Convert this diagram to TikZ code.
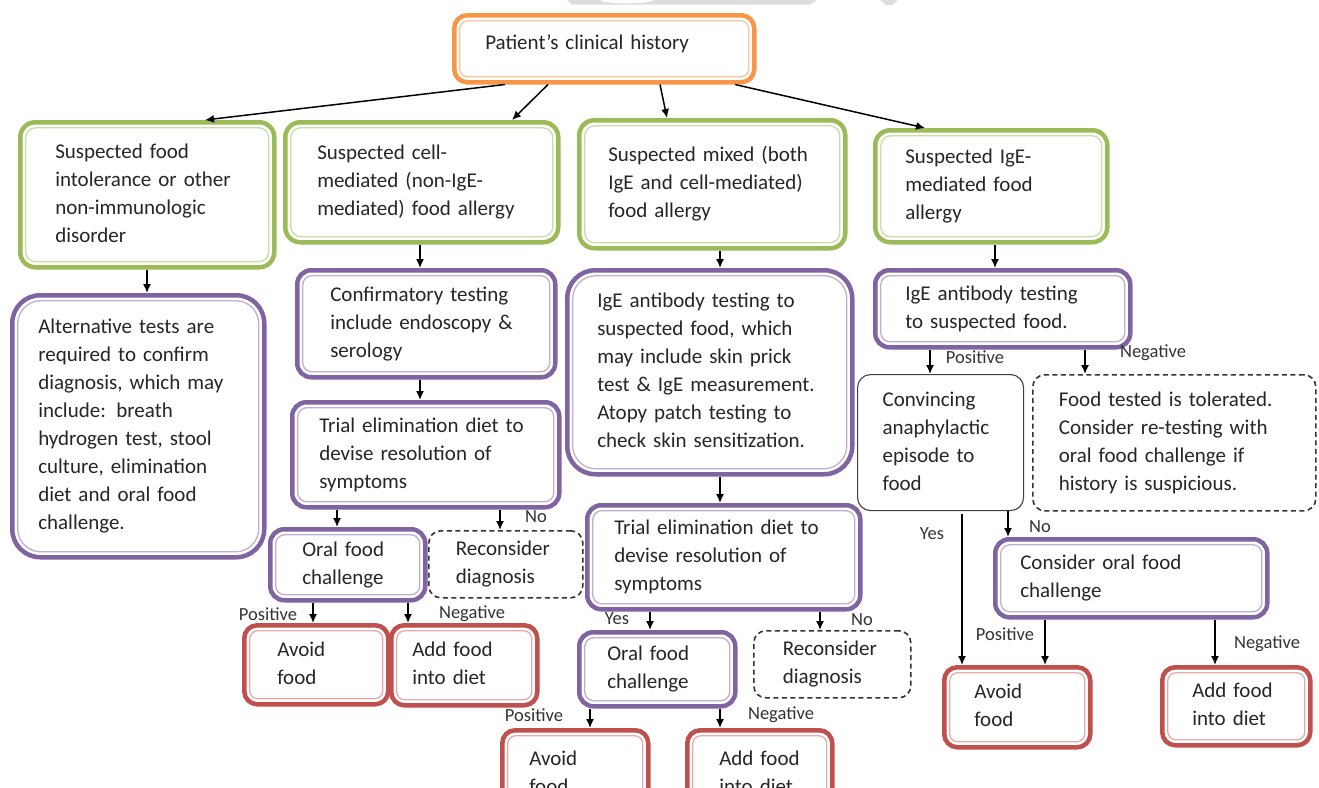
\documentclass[tikz,border=0pt]{standalone}
\usepackage{fontspec}
\setmainfont{Carlito}
\usetikzlibrary{arrows.meta}
\definecolor{orOut}{HTML}{F79646}
\definecolor{orIn}{HTML}{FAC59E}
\definecolor{grOut}{HTML}{9BBB59}
\definecolor{grIn}{HTML}{C9DDA6}
\definecolor{puOut}{HTML}{8064A2}
\definecolor{puIn}{HTML}{BDAFD6}
\definecolor{reOut}{HTML}{C0504D}
\definecolor{reIn}{HTML}{E8AAA8}
\definecolor{txt}{HTML}{262626}
\definecolor{labc}{HTML}{333333}
\definecolor{dsh}{HTML}{333333}
\definecolor{thinc}{HTML}{404040}
\definecolor{wm}{HTML}{DDDDDD}
\tikzset{
 bodyf/.style={font=\fontsize{21}{28}\selectfont, text=txt},
 dbox/.style n args={4}{draw=#1, line width=4.5pt, rounded corners=#3, fill=white, bodyf,
   path picture={\draw[draw=#2, line width=1.3pt, rounded corners=#4]
     ([shift={(5.5pt,5.5pt)}]path picture bounding box.south west) rectangle
     ([shift={(-5.5pt,-5.5pt)}]path picture bounding box.north east);}},
 obox/.style={dbox={orOut}{orIn}{13pt}{8pt}},
 gbox/.style={dbox={grOut}{grIn}{15pt}{10pt}},
 pbox/.style={dbox={puOut}{puIn}{14pt}{9pt}},
 pboxbig/.style={dbox={puOut}{puIn}{28pt}{23pt}},
 rbox/.style={dbox={reOut}{reIn}{13pt}{8pt}},
 dashbox/.style={draw=dsh, line width=1.6pt, dash pattern=on 5pt off 3.5pt, rounded corners=12pt, fill=white, bodyf},
 thinbox/.style={draw=thinc, line width=1.1pt, rounded corners=13pt, fill=white, bodyf},
 arr/.style={draw=black, line width=1.5pt, -{Latex[length=9pt,width=8pt]}},
 lab/.style={font=\fontsize{18.5}{21}\selectfont, text=labc, inner sep=1pt},
}
% name, style, x1, y1, x2, y2, left pad, text
\newcommand\mybox[8]{%
 \pgfmathsetmacro\mbw{#5-#3}\pgfmathsetmacro\mbh{#6-#4}\pgfmathsetmacro\mtw{#5-#3-2*#7}%
 \node[#2, minimum width=\mbw pt, minimum height=\mbh pt, text width=\mtw pt,
   anchor=north west, inner sep=0pt, align=left] (#1) at (#3,#4)
   {\begin{tabular}{@{}l@{}}#8\end{tabular}};}
% from, to, x
\newcommand\varr[3]{\draw[arr] (#3,0 |- #1.south) -- (#3,0 |- #2.north);}
\begin{document}
\begin{tikzpicture}[x=1pt,y=-1pt]
\useasboundingbox (0,0) rectangle (1319,787);
\clip (0,0) rectangle (1319,787);
\fill[white] (0,0) rectangle (1319,787);
% faint watermark fragments
\fill[wm] (567,0) -- (572,4.5) -- (810,4.5) -- (817,0) -- cycle;
\fill[white] (627,0) ellipse [x radius=26, y radius=3.3];
\fill[wm] (880,0) -- (898,0) -- (892,5) -- (886,5) -- cycle;

\mybox{hist}{obox}{452}{13}{752}{80}{31}{\raisebox{5pt}{Patient’s clinical history}}
\mybox{g1}{gbox}{18}{120}{272}{265}{35}{Suspected food\\intolerance or other\\non-immunologic\\disorder}
\mybox{g2}{gbox}{283}{120}{556}{240}{32}{Suspected cell-\\mediated (non-IgE-\\mediated) food allergy}
\mybox{g3}{gbox}{577}{118}{843}{246}{29}{Suspected mixed (both\\IgE and cell-mediated)\\food allergy}
\mybox{g4}{gbox}{873}{128}{1105}{240}{30}{Suspected IgE-\\mediated food\\allergy}

\mybox{alt}{pboxbig}{10}{293}{262}{555}{26}{Alternative tests are\\required to confirm\\diagnosis, which may\\include: breath\\hydrogen test, stool\\culture, elimination\\diet and oral food\\challenge.}
\mybox{conf}{pbox}{295}{268}{553}{375}{33}{Confirmatory testing\\include endoscopy \&\\serology}
\mybox{ige1}{pboxbig}{565}{268}{850}{472}{30}{IgE antibody testing to\\suspected food, which\\may include skin prick\\test \& IgE measurement.\\Atopy patch testing to\\check skin sensitization.}
\mybox{ige2}{pbox}{873}{268}{1128}{345}{30}{IgE antibody testing\\to suspected food.}

\mybox{trial1}{pbox}{290}{400}{557}{505}{27}{Trial elimination diet to\\devise resolution of\\symptoms}
\mybox{ofc1}{pbox}{268}{527}{423}{598}{32}{Oral food\\challenge}
\mybox{rec1}{dashbox}{428}{530}{582}{597}{27}{Reconsider\\diagnosis}
\mybox{avoid1}{rbox}{242}{623}{386}{702}{33}{Avoid\\food}
\mybox{add1}{rbox}{389}{623}{535}{703}{21}{Add food\\into diet}

\mybox{trial2}{pbox}{585}{503}{858}{607}{27}{Trial elimination diet to\\devise resolution of\\symptoms}
\mybox{ofc2}{pbox}{577}{630}{733}{704}{28}{Oral food\\challenge}
\mybox{rec2}{dashbox}{753}{630}{910}{697}{29}{Reconsider\\diagnosis}
\mybox{avoid2}{rbox}{500}{728}{646}{815}{27}{Avoid\\food}
\mybox{add2}{rbox}{685}{728}{830}{815}{32}{Add food\\into diet}

\mybox{conv}{thinbox}{857}{374}{1023}{510}{25}{Convincing\\anaphylactic\\episode to\\food}
\mybox{tol}{dashbox}{1032}{374}{1315}{510}{26}{Food tested is tolerated.\\Consider re-testing with\\oral food challenge if\\history is suspicious.}
\mybox{cofc}{pbox}{993}{537}{1265}{615}{25}{Consider oral food\\challenge}
\mybox{avoid3}{rbox}{942}{665}{1088}{745}{30}{Avoid\\food}
\mybox{add3}{rbox}{1160}{665}{1308}{743}{30}{Add food\\into diet}

% connectors from the history box
\draw[arr] (505,0 |- hist.south) -- (205,0 |- g1.north);
\draw[arr] (548,0 |- hist.south) -- (512,0 |- g2.north);
\draw[arr] (660,0 |- hist.south) -- (667,0 |- g3.north);
\draw[arr] (735,0 |- hist.south) -- (925,0 |- g4.north);

\varr{g1}{alt}{147}
\varr{g2}{conf}{420}
\varr{g3}{ige1}{720}
\varr{g4}{ige2}{995}
\varr{conf}{trial1}{420}
\varr{trial1}{ofc1}{337}
\varr{trial1}{rec1}{500}
\varr{ofc1}{avoid1}{313}
\varr{ofc1}{add1}{408}
\varr{ige1}{trial2}{720}
\varr{trial2}{ofc2}{650}
\varr{trial2}{rec2}{820}
\varr{ofc2}{avoid2}{590}
\varr{ofc2}{add2}{720}
\varr{ige2}{conv}{930}
\varr{ige2}{tol}{1085}
\varr{conv}{cofc}{1008}
\draw[arr, shorten <=3pt] (962,0 |- conv.south) -- (962,0 |- avoid3.north);
\varr{cofc}{avoid3}{1045}
\varr{cofc}{add3}{1215}

% labels
\node[lab] (lno1) at (536,517) {No};
\node[lab] (lpos1) at (268,614) {Positive};
\node[lab] (lneg1) at (472,614) {Negative};
\node[lab] (lyes2) at (617,619) {Yes};
\node[lab] (lno2) at (862,620) {No};
\node[lab] (lpos2) at (534,715) {Positive};
\node[lab] (lneg2) at (781,715) {Negative};
\node[lab] (lpos3) at (975,357) {Positive};
\node[lab] (lneg3) at (1153,353) {Negative};
\node[lab] (lyes3) at (932,534) {Yes};
\node[lab] (lno3) at (1040,527) {No};
\node[lab] (lpos4) at (1005,634) {Positive};
\node[lab] (lneg4) at (1267,644) {Negative};
\end{tikzpicture}
\end{document}
